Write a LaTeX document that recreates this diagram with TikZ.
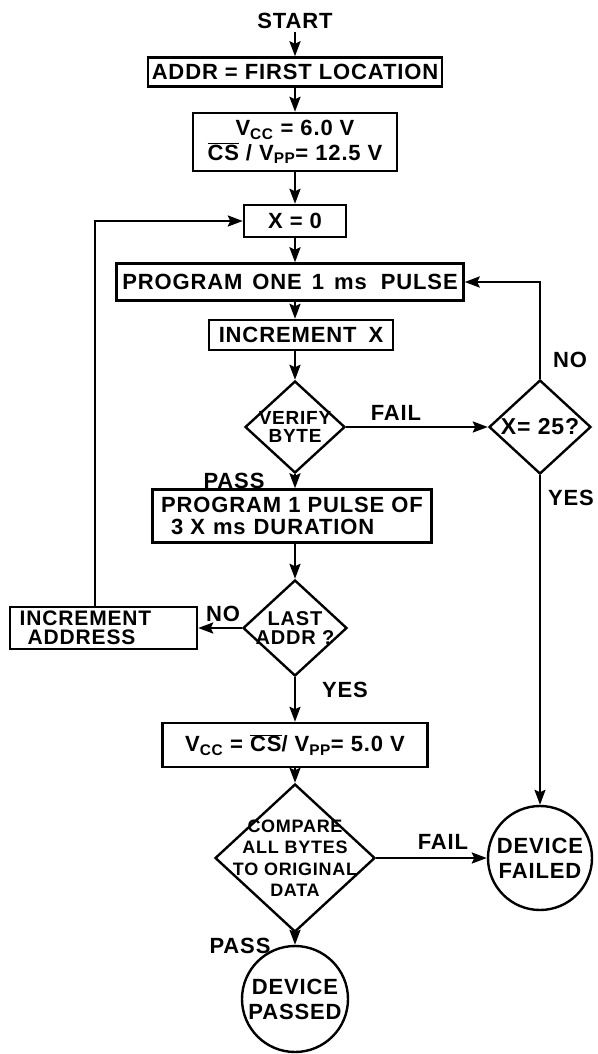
\documentclass[tikz,border=0pt]{standalone}
\usepackage{fontspec}
\setmainfont{Liberation Sans}[LetterSpace=4]
\usetikzlibrary{shapes.geometric,arrows.meta}
\begin{document}
\begin{tikzpicture}[x=1pt,y=1pt,
  every node/.style={font=\bfseries\fontsize{22}{24}\selectfont},
  box/.style={draw, line width=2.4pt, rectangle, inner sep=0pt, align=center},
  dia/.style={draw, line width=2.4pt, diamond, inner sep=0pt},
  circ/.style={draw, line width=2.4pt, circle, inner sep=0pt, align=center},
  arr/.style={line width=2.4pt, -{Stealth[length=15pt,width=11pt,inset=2.5pt]}},
  lbl/.style={font=\bfseries\fontsize{22}{24}\selectfont}
]
\useasboundingbox (0,0) rectangle (597,-1054);

\node (start) at (295,-21) {START};
\node[box, minimum width=294pt, minimum height=29pt] (addr) at (295,-72) {ADDR = FIRST LOCATION};
\node[box, minimum width=204pt, minimum height=58pt, font=\bfseries\fontsize{22}{25}\selectfont] (vcc6) at (295,-142)
  {V\textsubscript{CC} = 6.0 V\\$\overline{\mbox{\bfseries CS}}$ / V\textsubscript{PP}= 12.5 V};
\node[box, minimum width=102pt, minimum height=32pt] (x0) at (295,-221) {X = 0};
\node[box, minimum width=347pt, minimum height=37pt] (prog1) at (290,-282)
  {PROGRAM\hspace{10pt}ONE\hspace{10pt}1\hspace{10pt}ms\hspace{14pt}PULSE};
\node[box, minimum width=184pt, minimum height=30pt] (incx) at (301,-335) {INCREMENT\hspace{12pt}X};
\node[dia, minimum width=100pt, minimum height=92pt,
  label={[align=center, font=\bfseries\fontsize{19}{18}\selectfont]center:{VERIFY\\BYTE}}] (verify) at (295,-427) {};
\node[dia, minimum width=102pt, minimum height=94pt,
  label={[align=center, font=\bfseries\fontsize{23}{24}\selectfont]center:{X= 25?}}] (x25) at (540,-427) {};
\node[box, minimum width=279pt, minimum height=53pt, align=left, font=\bfseries\fontsize{22}{22}\selectfont] (prog3) at (292,-516)
  {PROGRAM 1 PULSE OF\\\hspace{10pt}3 X\hspace{8pt}ms\hspace{8pt}DURATION};
\node[dia, minimum width=104pt, minimum height=96pt,
  label={[align=center, font=\bfseries\fontsize{20}{19}\selectfont]center:{LAST\\ADDR ?}}] (last) at (295,-628) {};
\node[box, minimum width=187pt, minimum height=42pt,
  label={[align=left, xshift=-18pt, font=\bfseries\fontsize{21}{19}\selectfont]center:{INCREMENT\\\hspace{8pt}ADDRESS}}] (incaddr) at (103.5,-628) {};
\node[box, minimum width=265pt, minimum height=44pt] (vcc5) at (295,-745)
  {V\textsubscript{CC} = $\overline{\mbox{\bfseries CS}}$/ V\textsubscript{PP}= 5.0 V};
\node[dia, minimum width=160pt, minimum height=148pt,
  label={[align=center, font=\bfseries\fontsize{18}{21.5}\selectfont]center:{COMPARE\\ALL BYTES\\TO ORIGINAL\\DATA}}] (compare) at (295,-858) {};
\node[circ, minimum size=104pt, font=\bfseries\fontsize{22}{25}\selectfont] (failed) at (540,-858) {DEVICE\\FAILED};
\node[circ, minimum size=106pt, font=\bfseries\fontsize{22}{25}\selectfont] (passed) at (295,-999) {DEVICE\\PASSED};

\coordinate (lp) at (95,-221);

\draw[arr] (start.south) -- (addr.north);
\draw[arr] (addr.south) -- (vcc6.north);
\draw[arr] (vcc6.south) -- (x0.north);
\draw[arr] (x0.south) -- (x0.south |- prog1.north);
\draw[arr] (x0.south |- prog1.south) -- (x0.south |- incx.north);
\draw[arr] (x0.south |- incx.south) -- (verify.north);
\draw[arr] (verify.east) -- (x25.west);
\draw[arr] (x25.north) |- (prog1.east);
\draw[arr] (x25.south) -- (failed.north);
\draw[arr] (verify.south) -- (verify.south |- prog3.north);
\draw[arr] (verify.south |- prog3.south) -- (last.north);
\draw[arr] (last.west) -- (incaddr.east);
\draw[arr] (lp |- incaddr.north) -- (lp) -- (x0.west);
\draw[arr] (last.south) -- (vcc5.north);
\draw[arr] (vcc5.south) -- (compare.north);
\draw[arr] (compare.east) -- (failed.west);
\draw[arr] (compare.south) -- (passed.north);

\node[lbl] (lfail1) at (396,-413) {FAIL};
\node[lbl] (lno1) at (570,-360) {NO};
\node[lbl] (lyes1) at (571,-498) {YES};
\node[lbl] (lpass1) at (234,-481) {PASS};
\node[lbl] (lno2) at (223,-614) {NO};
\node[lbl] (lyes2) at (345,-690) {YES};
\node[lbl] (lfail2) at (443,-842) {FAIL};
\node[lbl] (lpass2) at (240,-946) {PASS};
\end{tikzpicture}
\end{document}
